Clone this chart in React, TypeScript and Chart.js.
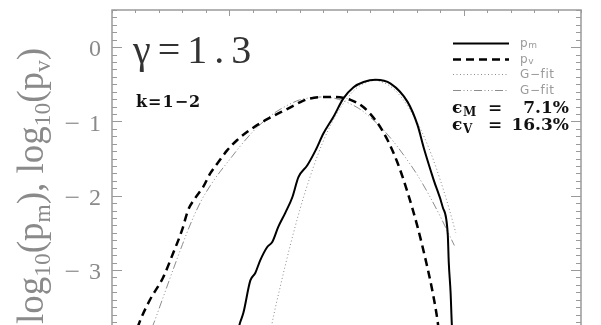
import { useEffect, useRef } from "react";
import { Chart, registerables } from "chart.js";

Chart.register(...registerables);

// ---------- data ----------
const pmX = [0.04, 0.047, 0.06, 0.09, 0.111, 0.132, 0.162, 0.184, 0.209, 0.239, 0.269, 0.295, 0.333, 0.368, 0.402, 0.444, 0.487, 0.53, 0.573, 0.624, 0.688, 0.761, 0.803, 0.829, 0.872, 0.91, 0.932, 0.936, 0.944, 0.949, 0.951];
const pmY = [-3.78, -3.7, -3.58, -3.14, -3.04, -2.87, -2.69, -2.62, -2.42, -2.23, -2.02, -1.75, -1.59, -1.39, -1.16, -0.94, -0.69, -0.54, -0.47, -0.44, -0.49, -0.74, -1.05, -1.35, -1.79, -2.15, -2.53, -2.89, -3.31, -3.72, -3.8];

const pvX = [-0.392, -0.376, -0.338, -0.282, -0.239, -0.201, -0.175, -0.145, -0.111, -0.081, -0.047, -0.009, 0.034, 0.077, 0.124, 0.162, 0.261, 0.303, 0.346, 0.444, 0.517, 0.573, 0.632, 0.675, 0.718, 0.761, 0.803, 0.838, 0.868, 0.889, 0.892];
const pvY = [-3.78, -3.65, -3.4, -3.1, -2.77, -2.46, -2.19, -2.03, -1.88, -1.7, -1.55, -1.39, -1.25, -1.14, -1.04, -0.97, -0.81, -0.74, -0.69, -0.67, -0.71, -0.81, -1.02, -1.25, -1.56, -1.96, -2.42, -2.87, -3.31, -3.7, -3.78];

const gfitMX = [0.17, 0.18, 0.22, 0.26, 0.3, 0.34, 0.38, 0.42, 0.46, 0.5, 0.54, 0.58, 0.62, 0.66, 0.7, 0.74, 0.78, 0.82, 0.86, 0.9, 0.94, 0.966];
const gfitMY = [-3.95, -3.76, -3.19, -2.67, -2.2, -1.79, -1.43, -1.13, -0.89, -0.7, -0.56, -0.48, -0.45, -0.48, -0.56, -0.7, -0.89, -1.13, -1.43, -1.79, -2.2, -2.5];

const gfitVX = [-0.33, -0.32, -0.28, -0.24, -0.2, -0.16, -0.12, -0.08, -0.04, 0.0, 0.05, 0.1, 0.15, 0.2, 0.25, 0.3, 0.35, 0.4, 0.45, 0.5, 0.55, 0.6, 0.65, 0.7, 0.75, 0.8, 0.85, 0.9, 0.96];
const gfitVY = [-3.78, -3.7, -3.35, -3.0, -2.66, -2.34, -2.07, -1.86, -1.68, -1.52, -1.32, -1.14, -0.99, -0.87, -0.78, -0.71, -0.68, -0.67, -0.69, -0.74, -0.82, -0.94, -1.09, -1.27, -1.48, -1.71, -1.98, -2.28, -2.67];

const yMajorTicks = [0, -1, -2, -3];
const yTickLabels = ["0", "−1", "−2", "−3"];
const xMajorTicks = [0, 1];
const seriesNames = ["p", "p", "G−fit", "G−fit"];
const seriesSubs = ["m", "v", "", ""];
const errorSubs = ["M", "V"];
const errorValues = ["7.1%", "16.3%"];
const gammaText = "γ=1.3";
const kText = "k=1−2";

const X_MIN = -0.5;
const X_MAX = 1.5;
const Y_MIN = -3.74;
const Y_MAX = 0.5;

const FRAME = "#9a9a9a";
const GRAY = "#8a8a8a";
const SERIF = "'Liberation Serif', 'Times New Roman', Times, 'DejaVu Serif', serif";

function spacedText(ctx: CanvasRenderingContext2D, text: string, x: number, y: number, gap: number) {
  let cx = x;
  for (const ch of Array.from(text)) {
    ctx.fillText(ch, cx, y);
    cx += ctx.measureText(ch).width + gap;
  }
  return cx;
}

const overlay = {
  id: "overlay",
  beforeDraw(chart: any) {
    const { ctx, width, height } = chart;
    ctx.save();
    ctx.fillStyle = "#ffffff";
    ctx.fillRect(0, 0, width, height);
    ctx.restore();
  },
  afterDraw(chart: any) {
    const { ctx, chartArea, scales } = chart;
    const { left, top, right, bottom } = chartArea;
    const xs = scales.x;
    const ys = scales.y;
    ctx.save();

    // frame (bottom is outside the picture)
    ctx.strokeStyle = FRAME;
    ctx.lineWidth = 1.5;
    ctx.beginPath();
    ctx.moveTo(left, bottom + 2);
    ctx.lineTo(left, top);
    ctx.lineTo(right, top);
    ctx.lineTo(right, bottom + 2);
    ctx.stroke();

    // y ticks (left & right)
    ctx.lineWidth = 1;
    ctx.beginPath();
    for (let i = Math.ceil(Y_MIN * 10); i <= Math.floor(Y_MAX * 10); i++) {
      const v = i / 10;
      const py = Math.round(ys.getPixelForValue(v)) + 0.5;
      const major = yMajorTicks.some((t) => Math.abs(t - v) < 1e-6);
      const len = major ? 10 : 5;
      ctx.moveTo(left, py);
      ctx.lineTo(left + len, py);
      ctx.moveTo(right, py);
      ctx.lineTo(right - len, py);
    }
    // x ticks (top)
    for (let i = Math.ceil(X_MIN * 10); i <= Math.floor(X_MAX * 10); i++) {
      const v = i / 10;
      const px = Math.round(xs.getPixelForValue(v)) + 0.5;
      const major = xMajorTicks.some((t) => Math.abs(t - v) < 1e-6);
      const len = major ? 6 : 3;
      ctx.moveTo(px, top);
      ctx.lineTo(px, top + len);
    }
    ctx.stroke();

    // y tick labels
    ctx.fillStyle = GRAY;
    ctx.font = `24px ${SERIF}`;
    ctx.textBaseline = "middle";
    ctx.textAlign = "right";
    yMajorTicks.forEach((t, i) => {
      const py = ys.getPixelForValue(t) + 3;
      const lab = yTickLabels[i];
      const digits = lab.replace("−", "");
      ctx.fillText(digits, left - 11, py);
      if (lab.startsWith("−")) {
        const dw = ctx.measureText(digits).width;
        ctx.save();
        ctx.translate(left - 11 - dw - 9, py);
        ctx.scale(1.15, 1);
        ctx.fillText("−", 0, 0);
        ctx.restore();
      }
    });

    // y axis title, rotated
    const parts: { t: string; sub: boolean }[] = [
      { t: "log", sub: false }, { t: "10", sub: true }, { t: "(p", sub: false }, { t: "m", sub: true },
      { t: "), log", sub: false }, { t: "10", sub: true }, { t: "(p", sub: false }, { t: "v", sub: true },
      { t: ")", sub: false },
    ];
    const mainFont = `38px ${SERIF}`;
    const subFont = `24px ${SERIF}`;
    let total = 0;
    const widths = parts.map((p) => {
      ctx.font = p.sub ? subFont : mainFont;
      const w = ctx.measureText(p.t).width;
      total += w;
      return w;
    });
    const scale = Math.min(1, 276 / total);
    ctx.save();
    ctx.translate(43, 186);
    ctx.rotate(-Math.PI / 2);
    ctx.scale(scale, 1);
    ctx.textAlign = "left";
    ctx.textBaseline = "alphabetic";
    let cx = -total / 2;
    parts.forEach((p, i) => {
      ctx.font = p.sub ? subFont : mainFont;
      ctx.fillText(p.t, cx, p.sub ? 7 : 0);
      cx += widths[i];
    });
    ctx.restore();

    // gamma label
    ctx.textAlign = "left";
    ctx.textBaseline = "alphabetic";
    ctx.fillStyle = "#333333";
    ctx.font = `40px ${SERIF}`;
    spacedText(ctx, gammaText, 133, 63, 7);

    // k label
    ctx.fillStyle = "#111111";
    ctx.font = "bold 16px 'DejaVu Serif'";
    spacedText(ctx, kText, 136, 107, 1);

    // legend
    const rowY = [43, 59, 74, 90];
    chart.data.datasets.forEach((ds: any, i: number) => {
      const y = rowY[i];
      ctx.save();
      ctx.strokeStyle = ds.borderColor;
      ctx.lineWidth = ds.borderWidth;
      ctx.setLineDash(ds.borderDash || []);
      ctx.beginPath();
      ctx.moveTo(453, y + 0.5);
      ctx.lineTo(509, y + 0.5);
      ctx.stroke();
      ctx.restore();
      ctx.fillStyle = "#9a9a9a";
      ctx.font = "12px 'DejaVu Sans'";
      const end = spacedText(ctx, seriesNames[i], 520, y + 4, 0.6);
      if (seriesSubs[i]) {
        ctx.font = "9px 'DejaVu Sans'";
        ctx.fillText(seriesSubs[i], end, y + 5);
      }
    });

    // error texts
    const errY = [113, 130];
    errorValues.forEach((val, i) => {
      const y = errY[i];
      ctx.fillStyle = "#111111";
      ctx.textAlign = "left";
      ctx.font = "bold 17px 'DejaVu Serif'";
      ctx.fillText("ϵ", 452, y);
      ctx.font = "bold 12px 'DejaVu Serif'";
      ctx.fillText(errorSubs[i], 463, y + 3);
      ctx.font = "bold 17px 'DejaVu Serif'";
      ctx.fillText("=", 488, y);
      ctx.textAlign = "right";
      ctx.fillText(val, 569, y);
    });

    ctx.restore();
  },
};

const toPoints = (xs: number[], ys: number[]) => xs.map((x, i) => ({ x, y: ys[i] }));

export default function App() {
  const ref = useRef<HTMLCanvasElement | null>(null);

  useEffect(() => {
    if (!ref.current) return;
    const chart = new Chart(ref.current, {
      type: "line",
      data: {
        datasets: [
          {
            label: "pm",
            data: toPoints(pmX, pmY),
            borderColor: "#000000",
            borderWidth: 2,
            borderDash: [],
            pointRadius: 0,
            cubicInterpolationMode: "monotone",
            order: 0,
          },
          {
            label: "pv",
            data: toPoints(pvX, pvY),
            borderColor: "#000000",
            borderWidth: 2.5,
            borderDash: [8, 5],
            pointRadius: 0,
            cubicInterpolationMode: "monotone",
            order: 1,
          },
          {
            label: "G-fit m",
            data: toPoints(gfitMX, gfitMY),
            borderColor: "#8c8c8c",
            borderWidth: 1,
            borderDash: [1, 2.5],
            pointRadius: 0,
            cubicInterpolationMode: "monotone",
            order: 2,
          },
          {
            label: "G-fit v",
            data: toPoints(gfitVX, gfitVY),
            borderColor: "#8c8c8c",
            borderWidth: 1,
            borderDash: [8, 2.5, 1, 2.5, 1, 2.5, 1, 2.5],
            pointRadius: 0,
            cubicInterpolationMode: "monotone",
            order: 3,
          },
        ],
      },
      options: {
        animation: false,
        responsive: false,
        maintainAspectRatio: false,
        devicePixelRatio: 1,
        layout: { padding: { left: 112, top: 10, right: 20, bottom: 0 } },
        scales: {
          x: { type: "linear", min: X_MIN, max: X_MAX, display: false },
          y: { type: "linear", min: Y_MIN, max: Y_MAX, display: false },
        },
        plugins: {
          legend: { display: false },
          title: { display: false },
          tooltip: { enabled: false },
        },
        events: [],
      },
      plugins: [overlay],
    });
    return () => chart.destroy();
  }, []);

  return (
    <div style={{ position: "absolute", left: 0, top: 0, width: 601, height: 325 }}>
      <canvas ref={ref} width={601} height={325} style={{ width: 601, height: 325, display: "block" }} />
    </div>
  );
}
